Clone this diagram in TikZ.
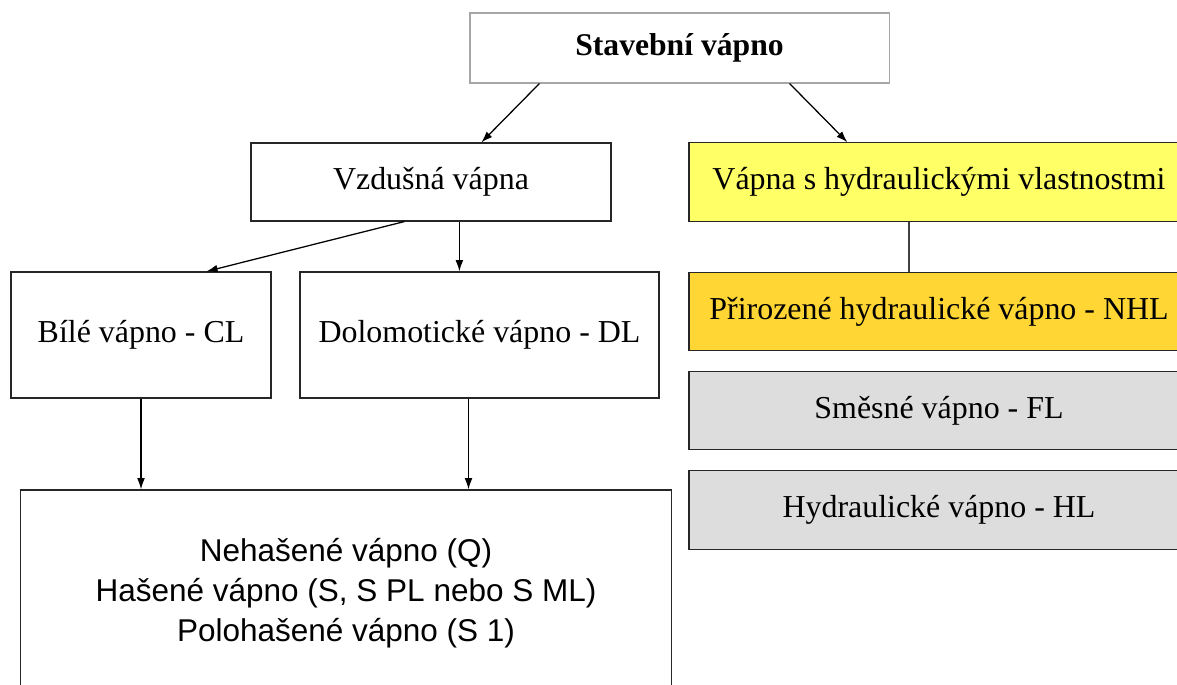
\documentclass[tikz,border=0pt]{standalone}
\usepackage{fontspec}
\setmainfont{Liberation Serif}
\setsansfont{Liberation Sans}
\usepackage{xcolor}
\usepackage{tikz}
\usetikzlibrary{arrows.meta, positioning, calc}
\definecolor{lmYellow}{HTML}{FFFF66}
\definecolor{lmGold}{HTML}{FFD633}
\definecolor{lmGrey}{HTML}{DDDDDD}
\definecolor{lmFrame}{HTML}{A6A6A6}

\begin{document}
\begin{tikzpicture}[
  x=0.025cm, y=-0.025cm,
  font=\fontsize{22.7}{27}\selectfont,
  box/.style={draw=black!85, line width=0.8pt, align=center, inner sep=2pt},
  head/.style={box, draw=lmFrame, font=\fontsize{22.5}{27}\selectfont\bfseries,
               minimum width=10.475cm, minimum height=1.75cm},
  wide/.style={box, minimum width=12.5cm, minimum height=1.96cm},
  tall/.style={box, minimum height=3.15cm},
  arr/.style={-{Latex[length=8pt,width=5.5pt]}, line width=0.9pt},
  link/.style={line width=0.9pt, draw=black!75},
]
\clip (0,0) rectangle (1177,684);
\fill[white] (0,0) rectangle (1177,684);

% ---------------- Horní úroveň ----------------
\node[head] (top) at (679.5,48) {Stavební vápno};

% ---------------- Vzdušná vápna (vlevo) ----------------
\node[box, minimum width=9cm, minimum height=1.95cm] (vzd) at (431,182) {Vzdušná vápna};
\node[tall, minimum width=6.5cm]   (cl) at (141,335)   {Bílé vápno - CL};
\node[tall, minimum width=8.975cm] (dl) at (479.5,335) {Dolomotické vápno - DL};
\node[box, minimum width=16.25cm, minimum height=5.15cm,
      font=\sffamily\fontsize{22.4}{28.4}\selectfont] (lime) at (346,593)
      {Nehašené vápno (Q)\\Hašené vápno (S, S PL nebo S ML)\\Polohašené vápno (S 1)};

% ---------------- Hydraulická vápna (vpravo) ----------------
\node[wide, fill=lmYellow] (hyd) at (939,182)   {Vápna s hydraulickými vlastnostmi};
\node[wide, fill=lmGold]   (nhl) at (939,311.5) {Přirozené hydraulické vápno - NHL};
\node[wide, fill=lmGrey]   (fl)  at (939,410.5) {Směsné vápno - FL};
\node[wide, fill=lmGrey]   (hl)  at (939,510)   {Hydraulické vápno - HL};

% ---------------- Spojnice ----------------
\draw[arr] ($(top.south west)+(70,0)$) -- ($(vzd.north west)+(231,0)$);
\draw[arr] ($(top.south east)+(-100,0)$) -- ($(hyd.north west)+(159,0)$);
\draw[arr] ($(vzd.south west)+(154,0)$) -- ($(cl.north west)+(196,0)$);
\draw[arr] ($(vzd.south west)+(209,0)$) coordinate (v1) -- (v1 |- dl.north);
\draw[arr] (cl.south) -- (cl.south |- lime.north);
\draw[arr] ($(dl.south)+(-11,0)$) coordinate (d1) -- (d1 |- lime.north);
\draw[link] ($(hyd.south)+(-30,0)$) coordinate (h1) -- (h1 |- nhl.north);
\end{tikzpicture}
\end{document}
